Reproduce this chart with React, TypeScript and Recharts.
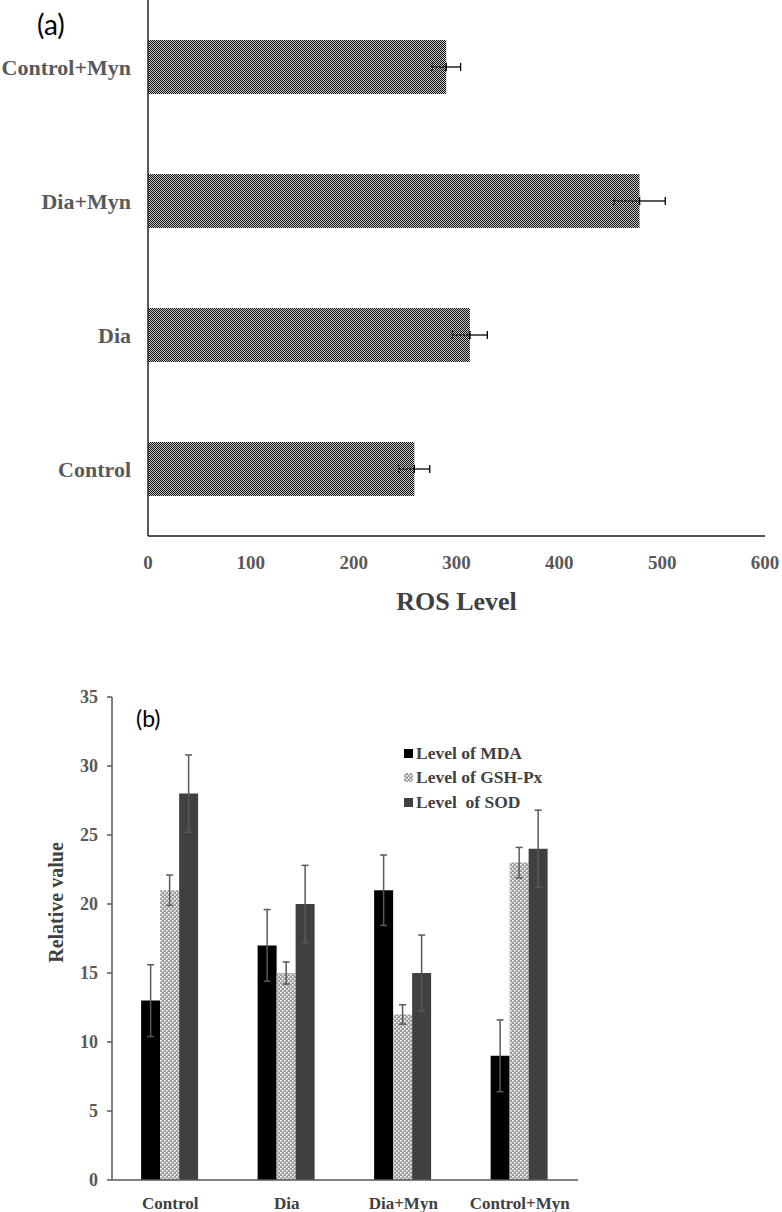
import React from 'react';
import { BarChart, Bar, XAxis, YAxis, ErrorBar, Legend, Label } from 'recharts';

// ---- Panel (a): ROS level ----
const rosCategories = ['Control+Myn', 'Dia+Myn', 'Dia', 'Control'];
const rosValues = [290, 478, 313, 259];
const rosErrors = [14, 25, 17, 15];
const rosTicks = [0, 100, 200, 300, 400, 500, 600];

// ---- Panel (b): relative values ----
const groups = ['Control', 'Dia', 'Dia+Myn', 'Control+Myn'];
const mdaValues = [13, 17, 21, 9];
const mdaErrors = [2.6, 2.6, 2.55, 2.6];
const gshValues = [21, 15, 12, 23];
const gshErrors = [1.1, 0.8, 0.7, 1.1];
const sodValues = [28, 20, 15, 24];
const sodErrors = [2.8, 2.8, 2.75, 2.8];
const relTicks = [0, 5, 10, 15, 20, 25, 30, 35];
const seriesNames = ['Level of MDA', 'Level of GSH-Px', 'Level  of SOD'];

const rosData = rosCategories.map((name, i) => ({
  name,
  value: rosValues[i],
  errLeft: [rosErrors[i], 0],
  errRight: [0, rosErrors[i]],
}));

const relData = groups.map((name, i) => ({
  name,
  mda: mdaValues[i],
  mdaErr: mdaErrors[i],
  gsh: gshValues[i],
  gshErr: gshErrors[i],
  sod: sodValues[i],
  sodErr: sodErrors[i],
}));

const serif = '"Liberation Serif", "Times New Roman", serif';
const sans = 'Lato, "Open Sans", sans-serif';

const legendItems = [
  { name: seriesNames[0], fill: '#000000' },
  { name: seriesNames[1], fill: 'url(#gshPattern)' },
  { name: seriesNames[2], fill: '#404040' },
];

const renderLegend = () => (
  <div style={{ fontFamily: serif, fontWeight: 'bold', fontSize: 17.5, color: '#404040' }}>
    {legendItems.map((item) => (
      <div key={item.name} style={{ display: 'flex', alignItems: 'center', height: 24.5, whiteSpace: 'pre' }}>
        <svg width={9} height={9} style={{ marginRight: 3 }}>
          <rect width={9} height={9} fill={item.fill} />
        </svg>
        {item.name}
      </div>
    ))}
  </div>
);

const RelLabel = (props: any) => {
  const vb = props.viewBox || { x: 0, y: 0, width: 0, height: 0 };
  const cx = vb.x + 56;
  const cy = vb.y + vb.height / 2 - 36;
  return (
    <text
      x={cx}
      y={cy}
      transform={`rotate(-90, ${cx}, ${cy})`}
      textAnchor="middle"
      dominantBaseline="central"
      fill="#404040"
      fontFamily={serif}
      fontWeight="bold"
      fontSize={20}
    >
      Relative value
    </text>
  );
};

export default function App() {
  return (
    <div style={{ position: 'absolute', left: 0, top: 0, width: 782, height: 1212, background: '#fff' }}>
      <svg width={0} height={0} style={{ position: 'absolute' }}>
        <defs>
          <pattern id="rosPattern" width={2} height={2} patternUnits="userSpaceOnUse">
            <rect width={2} height={2} fill="#c4c4c4" />
            <rect x={0} y={0} width={1} height={1} fill="#111" />
            <rect x={1} y={1} width={1} height={1} fill="#111" />
          </pattern>
          <pattern id="gshPattern" width={4} height={4} patternUnits="userSpaceOnUse">
            <rect width={4} height={4} fill="#9c9c9c" />
            <rect x={0} y={0} width={1.6} height={1.6} fill="#ffffff" />
            <rect x={2} y={2} width={1.6} height={1.6} fill="#ffffff" />
          </pattern>
        </defs>
      </svg>

      <div style={{ position: 'absolute', left: 37, top: 7, fontFamily: sans, fontSize: 28, color: '#000' }}>(a)</div>

      <div style={{ position: 'absolute', left: 0, top: 0 }}>
        <BarChart
          width={782}
          height={620}
          data={rosData}
          layout="vertical"
          margin={{ top: 0, right: 17, bottom: 24, left: 0 }}
        >
          <XAxis
            type="number"
            domain={[0, 600]}
            ticks={rosTicks}
            interval={0}
            height={60}
            tickLine={false}
            tickSize={6}
            tickMargin={14}
            axisLine={{ stroke: '#555', strokeWidth: 2 }}
            tick={{ fill: '#595959', fontSize: 19, fontWeight: 'bold', fontFamily: serif }}
          >
            <Label
              value="ROS Level"
              position="insideBottom"
              offset={-14}
              fill="#404040"
              fontSize={26}
              fontWeight="bold"
              fontFamily={serif}
            />
          </XAxis>
          <YAxis
            type="category"
            dataKey="name"
            width={148}
            tickLine={false}
            tickSize={0}
            tickMargin={17}
            axisLine={{ stroke: '#222', strokeWidth: 1.5 }}
            tick={{ fill: '#595959', fontSize: 22, fontWeight: 'bold', fontFamily: serif }}
          />
          <Bar dataKey="value" fill="url(#rosPattern)" barSize={54} isAnimationActive={false}>
            <ErrorBar dataKey="errLeft" direction="x" width={4} stroke="#000" strokeWidth={1.3} strokeDasharray="2 1.5" />
            <ErrorBar dataKey="errRight" direction="x" width={4} stroke="#000" strokeWidth={1.3} />
          </Bar>
        </BarChart>
      </div>

      <div style={{ position: 'absolute', left: 136, top: 704, fontFamily: sans, fontSize: 23, color: '#000' }}>(b)</div>

      <div style={{ position: 'absolute', left: 0, top: 640 }}>
        <BarChart
          width={782}
          height={572}
          data={relData}
          margin={{ top: 57, right: 204, bottom: 0, left: 0 }}
          barCategoryGap="25%"
          barGap={0}
        >
          <XAxis
            dataKey="name"
            height={32}
            tickLine={false}
            tickSize={0}
            tickMargin={17}
            axisLine={{ stroke: '#595959', strokeWidth: 1.5 }}
            tick={{ fill: '#404040', fontSize: 17, fontWeight: 'bold', fontFamily: serif }}
          />
          <YAxis
            type="number"
            domain={[0, 35]}
            ticks={relTicks}
            interval={0}
            width={112}
            tickSize={5}
            tickMargin={9}
            tickLine={{ stroke: '#595959', strokeWidth: 1.5 }}
            axisLine={{ stroke: '#595959', strokeWidth: 1.5 }}
            tick={{ fill: '#595959', fontSize: 18, fontWeight: 'bold', fontFamily: serif }}
          >
            <Label content={RelLabel} />
          </YAxis>
          <Legend
            layout="horizontal"
            verticalAlign="middle"
            align="center"
            content={renderLegend}
            wrapperStyle={{ top: 101, left: 404, width: 200, bottom: 'auto', right: 'auto' }}
          />
          <Bar dataKey="mda" name={seriesNames[0]} fill="#000000" isAnimationActive={false}>
            <ErrorBar dataKey="mdaErr" direction="y" width={3.5} stroke="#595959" strokeWidth={1.5} />
          </Bar>
          <Bar dataKey="gsh" name={seriesNames[1]} fill="url(#gshPattern)" isAnimationActive={false}>
            <ErrorBar dataKey="gshErr" direction="y" width={3.5} stroke="#595959" strokeWidth={1.5} />
          </Bar>
          <Bar dataKey="sod" name={seriesNames[2]} fill="#404040" isAnimationActive={false}>
            <ErrorBar dataKey="sodErr" direction="y" width={3.5} stroke="#595959" strokeWidth={1.5} />
          </Bar>
        </BarChart>
      </div>
    </div>
  );
}
